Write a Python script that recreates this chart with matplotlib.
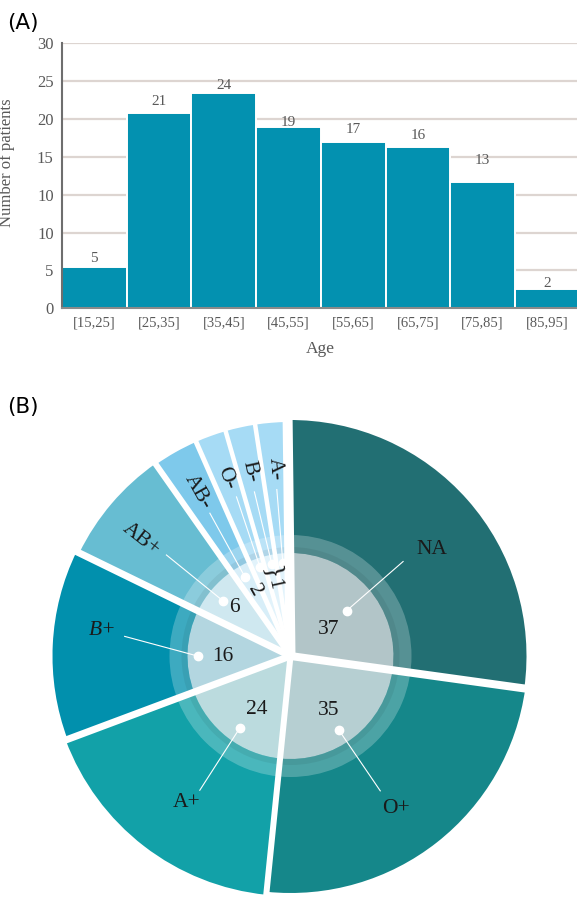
import numpy as np
import matplotlib
matplotlib.use("Agg")
from matplotlib import pyplot as plt
from matplotlib.patches import Wedge

# ---- panel A : age distribution
age_groups = ['[15,25]', '[25,35]', '[35,45]', '[45,55]',
              '[55,65]', '[65,75]', '[75,85]', '[85,95]']
patients = [5, 21, 24, 19, 17, 16, 13, 2]
# heights of the bars as drawn (axis runs 0..35, its labels repeat "10")
bar_heights = [5.5, 25.8, 28.4, 23.9, 22.0, 21.3, 16.7, 2.55]
ytick_labels = ['0', '5', '10', '10', '15', '20', '25', '30']

# ---- panel B : blood groups
blood_types = ['NA', 'O+', 'A+', 'B+', 'AB+', 'AB-', 'O-', 'B-', 'A-']
blood_counts = [37, 35, 24, 16, 6, 2, 1, 1, 1]
slice_degrees = [98.6, 87.9, 63.7, 46.5, 28.9, 11.3, 7.7, 7.4, 8.0]

# styles / layout
W, H = 577, 898
serif = 'Liberation Serif'
bar_color = '#0391b0'
grid_color = '#ddd5d1'
text_grey = '#595959'
outer_colors = ['#226f73', '#15878a', '#12a1a8', '#0190ad', '#67bdd2',
                '#7ec9eb', '#a6dbf5', '#a6dbf5', '#a6dbf5']
inner_colors = ['#b2c5c8', '#b6cfd2', '#bbdbde', '#b3d6e0', '#cfe8f0',
                '#d8eef8', '#e2f3fb', '#e2f3fb', '#e2f3fb']
outer_r = [236, 237, 240, 238, 235, 234, 234, 234, 234]
gap_px = [8, 6, 7, 7, 6, 5, 4.5, 4.5, 10]
label_off_px = [8.4, 11, 7.3, 5, 12.7, 11.3, 21.3, 5.7]
start_angle = 90.7
# (angle offset from slice middle, radius) for name, dot, line end, number
name_pos = [(-4.3, 177), (-3.5, 185), (2.4, 180), (-4.9, 190), (2.5, 189),
            (0, 188), (0, 189), (0, 189), (0, 188)]
dot_pos = [(-2.5, 72), (-5, 88), (2.5, 88), (2.75, 93), (1.2, 87),
           (0.5, 91), (-1, 94), (-0.9, 94), (0, 93)]
end_pos = [(-1.4, 147), (-4.5, 162), (3.6, 162), (-4, 167), (1.3, 160),
           (0, 164), (-1.2, 168), (0, 168), (0, 167)]
num_pos = [(-6.7, 46), (-3.2, 66), (5.2, 63), (3.4, 68), (-0.8, 74),
           (-1.1, 75), None, None, None]

fig = plt.figure(figsize=(W / 100, H / 100), dpi=100)

# ------------------------------------------------------------ (A)
ax = fig.add_axes([62 / W, 1 - 308.3 / H, (W - 62) / W, 265 / H])
xs = np.arange(len(age_groups)) + 0.5
ax.bar(xs, bar_heights, width=1.0, color=bar_color, edgecolor='white',
       linewidth=1.4, zorder=2)
for x, h, n, off in zip(xs, bar_heights, patients, label_off_px):
    ax.annotate(str(n), (x, h), xytext=(0, off * 0.72), textcoords='offset points',
                ha='center', va='center', fontsize=11, family=serif, color=text_grey)

ax.set_xlim(0, (W - 62) / 64.7)
ax.set_ylim(0, 35)
ax.set_yticks(np.arange(0, 36, 5))
ax.set_yticklabels(ytick_labels, family=serif, fontsize=12, color=text_grey)
ax.set_xticks(xs)
ax.set_xticklabels(age_groups, family=serif, fontsize=10.5, color=text_grey)
ax.tick_params(axis='both', length=0)
ax.tick_params(axis='y', pad=6)
ax.tick_params(axis='x', pad=6)
ax.yaxis.grid(True, color=grid_color, linewidth=1.6)
ax.set_axisbelow(True)
for s in ['top', 'right']:
    ax.spines[s].set_visible(False)
ax.spines['left'].set_color('#6e6e6e')
ax.spines['left'].set_linewidth(1.5)
ax.spines['bottom'].set_color('#8a8a8a')
ax.spines['bottom'].set_linewidth(1.5)
ax.set_ylabel('Number of patients', family=serif, fontsize=12, color=text_grey)
ax.yaxis.set_label_coords((15 - 62) / (W - 62), 0.55)
ax.set_xlabel('Age', family=serif, fontsize=12.5, color=text_grey)
ax.xaxis.set_label_coords((320 - 62) / (W - 62), -(341 - 308.3) / 265)

fig.text(7 / W, 1 - 23.5 / H, '(A)', ha='left', va='center', fontsize=15.5,
         family='DejaVu Sans')
fig.text(7 / W, 1 - 407.5 / H, '(B)', ha='left', va='center', fontsize=15.5,
         family='DejaVu Sans')

# ------------------------------------------------------------ (B)
cx, cy = 290.5, 656
ax2 = fig.add_axes([0, 0, 1, (H - 380) / H])

wedges, _ = ax2.pie(slice_degrees, startangle=start_angle, counterclock=False,
                    colors=outer_colors, radius=240, wedgeprops=dict(linewidth=0))
for w, r in zip(wedges, outer_r):
    w.set_radius(r)

ax2.add_patch(Wedge((0, 0), 121, 0, 360, width=18, facecolor='white',
                    alpha=0.24, linewidth=0))
ax2.add_patch(Wedge((0, 0), 109, 0, 360, width=6, facecolor='black',
                    alpha=0.06, linewidth=0))
ax2.pie(slice_degrees, startangle=start_angle, counterclock=False,
        colors=inner_colors, radius=103, wedgeprops=dict(linewidth=0))

degs = np.array(slice_degrees)
bounds = start_angle - np.cumsum(degs)
mids = start_angle - (np.cumsum(degs) - degs / 2)


def polar(r, a):
    t = np.radians(a)
    return r * np.cos(t), r * np.sin(t)


for ang, g in zip(bounds, gap_px):
    ex, ey = polar(250, ang)
    ax2.plot([0, ex], [0, ey], color='white', lw=g * 0.72,
             solid_capstyle='butt', zorder=3)

txt = dict(ha='center', va='center', fontsize=15.5, family=serif,
           color='#1a1a1a', rotation_mode='anchor', zorder=5)

for i, (name, mid, deg) in enumerate(zip(blood_types, mids, degs)):
    da, r = name_pos[i]
    lx, ly = polar(r, mid + da)
    rot = mid + da - 180 if deg < 30 else 0
    ax2.text(lx, ly, name, rotation=rot,
             fontstyle='italic' if name == 'B+' else 'normal', **txt)
    x0, y0 = polar(dot_pos[i][1], mid + dot_pos[i][0])
    x1, y1 = polar(end_pos[i][1], mid + end_pos[i][0])
    ax2.plot([x0, x1], [y0, y1], color='white', lw=0.8, zorder=4)
    ax2.plot(x0, y0, 'o', color='white', ms=6, zorder=4)
    if num_pos[i] is not None:
        na, nr = num_pos[i]
        nx, ny = polar(nr, mid + na)
        nrot = mid - 180 if deg < 20 else 0
        ax2.text(nx, ny, str(blood_counts[i]), rotation=nrot, **txt)

ones = [m for m, c in zip(mids, blood_counts) if c == 1]
m1 = np.mean(ones)
bx, by = polar(85, m1)
ax2.text(bx, by, '}', rotation=m1 - 180,
         **dict(txt, fontsize=19))
ox, oy = polar(74, m1 + 1)
ax2.text(ox, oy, '1', rotation=m1 - 180, **txt)

ax2.set_xlim(-cx, W - cx)
ax2.set_ylim(-(H - cy), cy - 380)
ax2.set_aspect('equal')
ax2.axis('off')

fig.savefig('out.png', dpi=100)
